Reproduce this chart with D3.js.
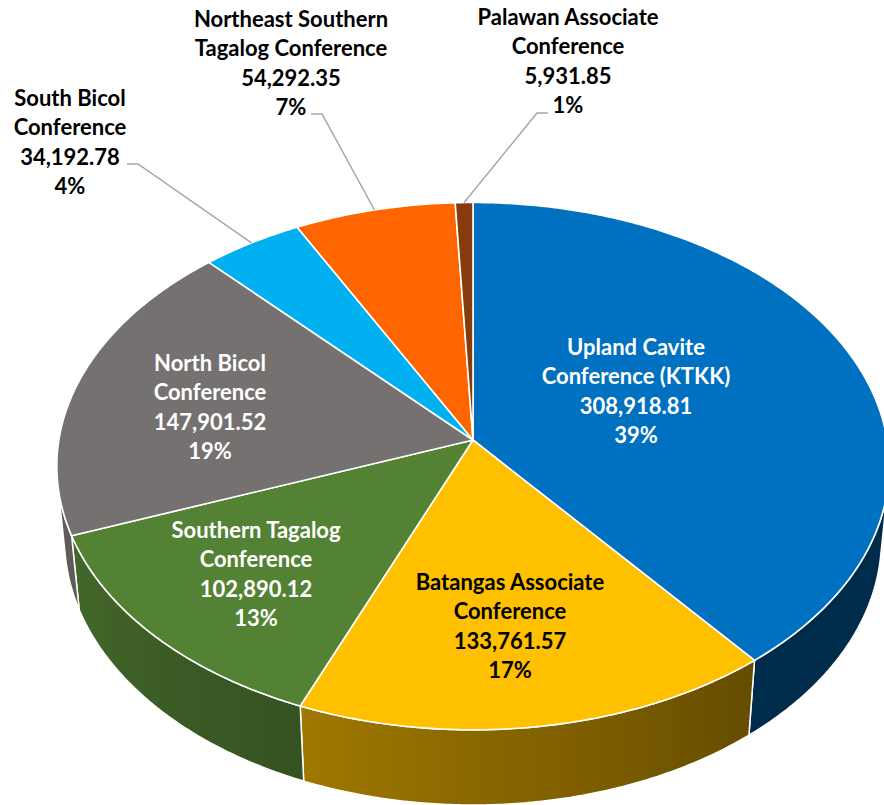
<!DOCTYPE html>
<html>
<head>
<meta charset="utf-8">
<script src="https://cdn.jsdelivr.net/npm/d3@7"></script>
<style>
  html, body { margin: 0; padding: 0; background: #fff; }
  svg { display: block; }
</style>
</head>
<body>
<svg id="chart" width="884" height="805"></svg>
<script>
// ---------- DATA ----------
const categories = [
  "Upland Cavite Conference (KTKK)",
  "Batangas Associate Conference",
  "Southern Tagalog Conference",
  "North Bicol Conference",
  "South Bicol Conference",
  "Northeast Southern Tagalog Conference",
  "Palawan Associate Conference"
];
const values = [308918.81, 133761.57, 102890.12, 147901.52, 34192.78, 54292.35, 5931.85];
const colors = ["#0070C0", "#FFC000", "#548235", "#767171", "#00B0F0", "#FF6600", "#843C0C"];

// ---------- LAYOUT (labels) ----------
const labelLayout = [
  { x: 636, y: 355, words: 2, fill: "#fff" },
  { x: 510, y: 590, words: 2, fill: "#000" },
  { x: 256, y: 538, words: 2, fill: "#fff" },
  { x: 210, y: 371, words: 2, fill: "#fff" },
  { x: 70,  y: 106, words: 2, fill: "#000", lx: 127, ly: 164, dir: 1 },
  { x: 291, y: 27,  words: 2, fill: "#000", lx: 311, ly: 114, dir: 1 },
  { x: 568, y: 25,  words: 2, fill: "#000", lx: 548, ly: 113, dir: -1 }
];

// ---------- 3D PROJECTION ----------
const cx = 473, cy = 440;
const F = 3240, D = 7.824;
const phi = Math.asin(0.6304);
const cS = Math.sin(phi), cC = Math.cos(phi);
const thick = 0.232;

function project(theta, rho, Y) {
  const X = rho * Math.sin(theta);
  const Z = -rho * Math.cos(theta);
  const yd = Z * cS - Y * cC;
  const d = D - (Z * cC + Y * cS);
  return [cx + F * X / d, cy + F * yd / d];
}

// silhouette angles of the cylinder wall
const zt = 1 / (D * cC);
const silA = Math.acos(-zt);
const silB = 2 * Math.PI - Math.acos(-zt);

const svg = d3.select("#chart");
const defs = svg.append("defs");

const pie = d3.pie().sort(null).value(d => d).startAngle(0).endAngle(2 * Math.PI);
const arcs = pie(values);
const total = d3.sum(values);
const fmtVal = d3.format(",.2f");
const fmtPct = d3.format(".0%");

function shade(hex, k) {
  const c = d3.rgb(hex);
  return d3.rgb(c.r * k, c.g * k, c.b * k).formatHex();
}
function shadeFactor(theta) {
  const deg = theta * 180 / Math.PI;
  const t = Math.max(0, Math.min(1, (deg - 140) / 110));
  return 0.39 + 0.42 * t;
}

function sampleAngles(a, b) {
  const n = Math.max(2, Math.ceil((b - a) / (0.5 * Math.PI / 180)));
  return d3.range(n + 1).map(i => a + (b - a) * i / n);
}

// ---------- WALLS ----------
const wallG = svg.append("g");
arcs.forEach((a, i) => {
  const s = Math.max(a.startAngle, silA), e = Math.min(a.endAngle, silB);
  if (s >= e) return;
  const angs = sampleAngles(s, e);
  const top = angs.map(t => project(t, 1, 0));
  const bot = angs.slice().reverse().map(t => project(t, 1, -thick));
  const pts = top.concat(bot);
  const x1 = top[0][0], x2 = top[top.length - 1][0];
  const gid = "wall" + i;
  const grad = defs.append("linearGradient").attr("id", gid)
    .attr("gradientUnits", "userSpaceOnUse")
    .attr("x1", x1).attr("x2", x2).attr("y1", 0).attr("y2", 0);
  const step = Math.max(1, Math.floor(angs.length / 20));
  angs.forEach((t, k) => {
    if (k % step !== 0 && k !== angs.length - 1) return;
    grad.append("stop")
      .attr("offset", (top[k][0] - x1) / (x2 - x1))
      .attr("stop-color", shade(colors[i], shadeFactor(t)));
  });
  wallG.append("path")
    .attr("d", "M" + pts.map(p => p[0].toFixed(2) + "," + p[1].toFixed(2)).join("L") + "Z")
    .attr("fill", "url(#" + gid + ")")
    .attr("stroke", "#fff").attr("stroke-width", 1.5).attr("stroke-linejoin", "round");
});

// ---------- TOP FACES ----------
const topG = svg.append("g");
arcs.forEach((a, i) => {
  const angs = sampleAngles(a.startAngle, a.endAngle);
  const pts = [[cx, cy]].concat(angs.map(t => project(t, 1, 0)));
  topG.append("path")
    .attr("d", "M" + pts.map(p => p[0].toFixed(2) + "," + p[1].toFixed(2)).join("L") + "Z")
    .attr("fill", colors[i])
    .attr("stroke", "#fff").attr("stroke-width", 1.6).attr("stroke-linejoin", "round");
});

// ---------- LEADER LINES ----------
const leadG = svg.append("g");
arcs.forEach((a, i) => {
  const L = labelLayout[i];
  if (L.lx === undefined) return;
  const mid = (a.startAngle + a.endAngle) / 2;
  const p = project(mid, 1, 0);
  const bx = L.lx + L.dir * 11;
  leadG.append("path")
    .attr("d", `M${L.lx},${L.ly}L${bx},${L.ly}L${p[0].toFixed(2)},${p[1].toFixed(2)}`)
    .attr("fill", "none").attr("stroke", "#a6a6a6").attr("stroke-width", 1.5);
});

// ---------- LABELS ----------
const labG = svg.append("g")
  .attr("font-family", "Lato, 'Open Sans', sans-serif")
  .attr("font-weight", 700)
  .attr("font-size", 22)
  .attr("text-anchor", "middle");
const lineH = 29.3;
arcs.forEach((a, i) => {
  const L = labelLayout[i];
  const words = categories[i].split(" ");
  const lines = [words.slice(0, L.words).join(" "), words.slice(L.words).join(" "),
                 fmtVal(values[i]), fmtPct(values[i] / total)];
  const t = labG.append("text").attr("fill", L.fill);
  lines.forEach((ln, k) => {
    t.append("tspan").attr("x", L.x).attr("y", L.y + k * lineH).text(ln);
  });
});
</script>
</body>
</html>
